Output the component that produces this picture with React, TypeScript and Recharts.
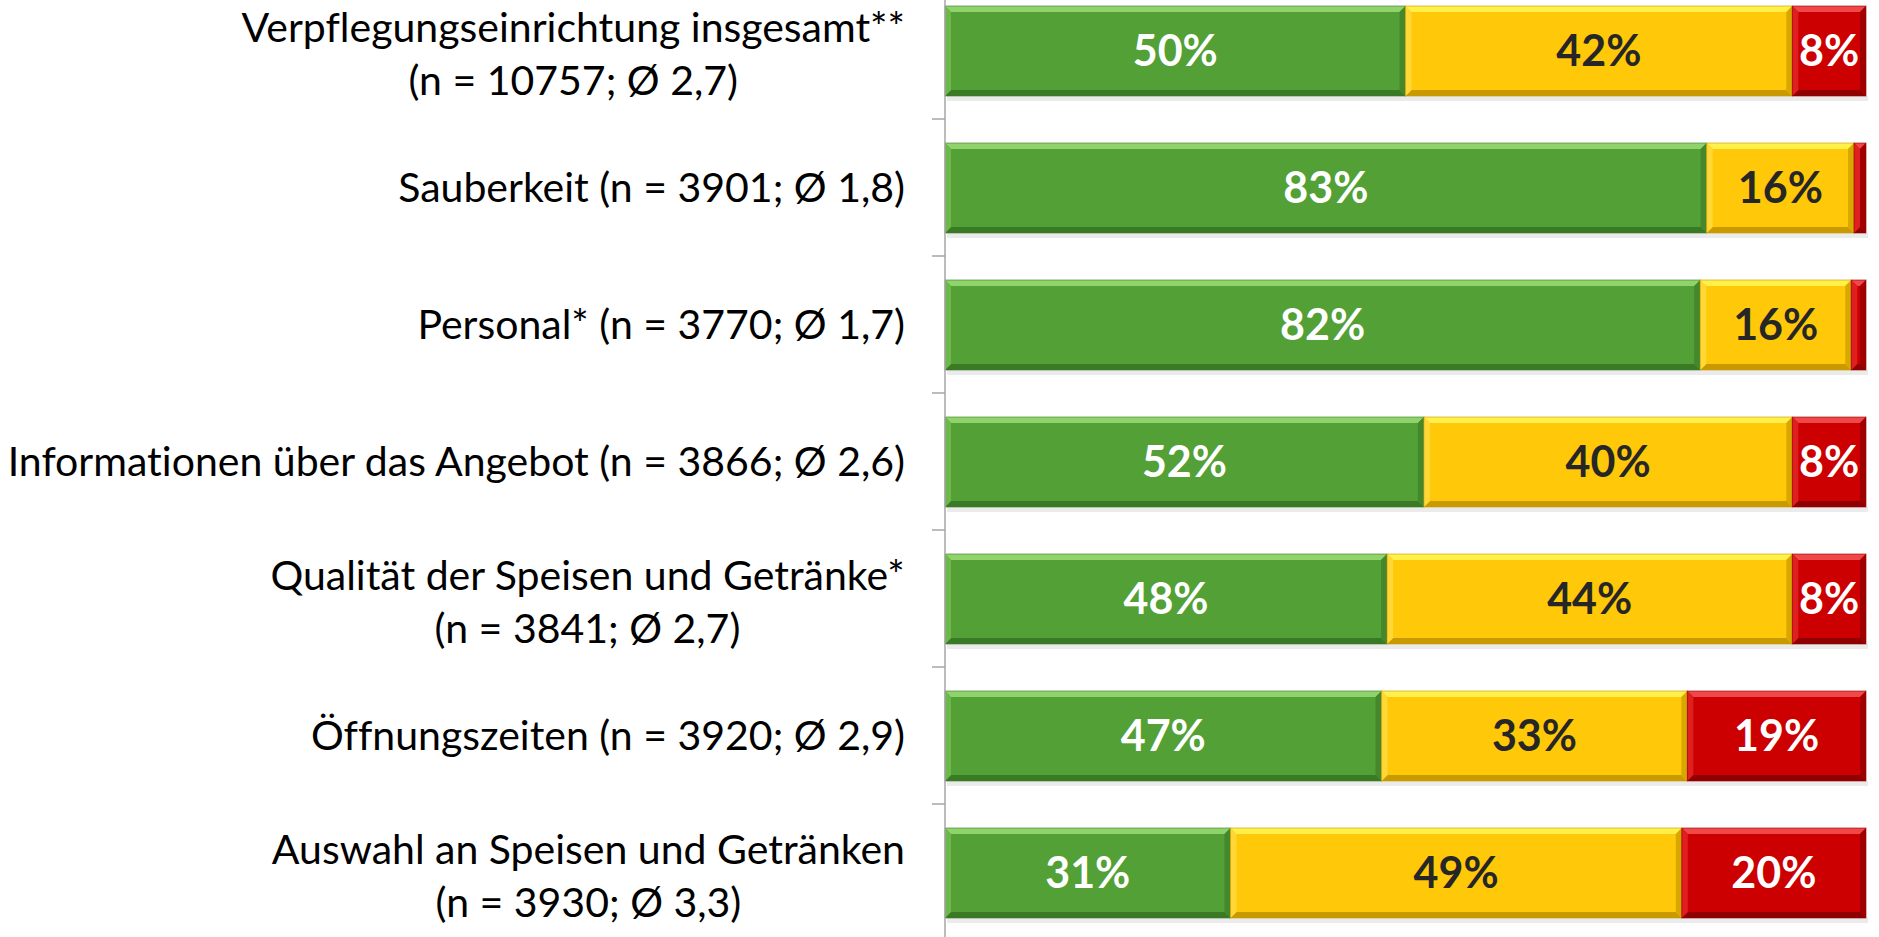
import React from "react";
import { BarChart, Bar, XAxis, YAxis, LabelList } from "recharts";

const categories = [
  "Verpflegungseinrichtung insgesamt**\n(n = 10757; Ø 2,7)",
  "Sauberkeit (n = 3901; Ø 1,8)",
  "Personal* (n = 3770; Ø 1,7)",
  "Informationen über das Angebot (n = 3866; Ø 2,6)",
  "Qualität der Speisen und Getränke*\n(n = 3841; Ø 2,7)",
  "Öffnungszeiten (n = 3920; Ø 2,9)",
  "Auswahl an Speisen und Getränken\n(n = 3930; Ø 3,3)",
];

// share in percent: good / medium / bad
const gut = [50, 82.7, 82, 52, 48, 47.4, 31];
const mittel = [42, 16, 16.4, 40, 44, 33.2, 49];
const schlecht = [8, 1.3, 1.6, 8, 8, 19.4, 20];

const data = categories.map((name, i) => ({
  name,
  gut: gut[i],
  mittel: mittel[i],
  schlecht: schlecht[i],
}));

const CHART_W = 1879;
const CHART_H = 959;
const BAND = CHART_H / categories.length;
const CAT_SIZE = 41;

let ctx: CanvasRenderingContext2D | null = null;
const measure = (s: string) => {
  if (!ctx) ctx = document.createElement("canvas").getContext("2d");
  if (!ctx) return s.length * 18;
  ctx.font = `${CAT_SIZE}px Lato`;
  return ctx.measureText(s).width;
};

const catStyle: React.CSSProperties = { fontVariantLigatures: "none" };

const CategoryTick = (props: any) => {
  const { x, y, payload, index } = props;
  const lines: string[] = String(payload.value).split("\n");
  const w = Math.max(...lines.map(measure));
  const cx = x - w / 2;
  return (
    <g>
      {index > 0 && (
        <line x1={x + 27} x2={x + 40} y1={y - BAND / 2} y2={y - BAND / 2} stroke="#a6a6a6" strokeWidth={1.5} />
      )}
      {lines.length === 1 ? (
        <text x={x} y={y + 14} textAnchor="end" fontFamily="Lato" fontSize={CAT_SIZE} fill="#000" style={catStyle}>
          {lines[0]}
        </text>
      ) : (
        lines.map((l, i) => (
          <text key={i} x={cx} y={y - 9 + i * 53} textAnchor="middle" fontFamily="Lato" fontSize={CAT_SIZE} fill="#000" style={catStyle}>
            {l}
          </text>
        ))
      )}
    </g>
  );
};

const makeBevel = (light: string, dark: string, side: string, sideDark: string) => (props: any) => {
  const { x, y, width, height, fill } = props;
  if (!width || width <= 0) return <g />;
  const b = Math.min(6, width / 2);
  const r = x + width;
  const btm = y + height;
  return (
    <g>
      <rect x={x + 2} y={btm} width={width} height={5} fill="#000" fillOpacity={0.08} />
      <rect x={x} y={y} width={width} height={height} fill={fill} />
      <polygon points={`${x},${y} ${r},${y} ${r - b},${y + b} ${x + b},${y + b}`} fill={light} />
      <polygon points={`${x},${btm} ${r},${btm} ${r - b},${btm - b} ${x + b},${btm - b}`} fill={dark} />
      <polygon points={`${x},${y} ${x + b},${y + b} ${x + b},${btm - b} ${x},${btm}`} fill={side} />
      <polygon points={`${r},${y} ${r - b},${y + b} ${r - b},${btm - b} ${r},${btm}`} fill={sideDark} />
      <rect x={x} y={y} width={width} height={height} fill="none" stroke={dark} strokeWidth={1} strokeOpacity={0.6} />
    </g>
  );
};

const greenShape = makeBevel("#8fd36a", "#3b7a25", "#6cb94a", "#44872c");
const yellowShape = makeBevel("#fff04a", "#c99a00", "#ffd838", "#d9a800");
const redShape = makeBevel("#f04848", "#8f0000", "#e02020", "#a00000");

const pct = (v: any) => (Number(v) < 5 ? "" : `${Math.round(Number(v))}%`);

const labelStyle = { fontFamily: "Lato", fontWeight: 700, fontSize: 43 };

export default function App() {
  return (
    <div style={{ position: "absolute", left: 0, top: 0, width: CHART_W, height: 937, overflow: "hidden", background: "#fff" }}>
      <div style={{ marginTop: -18 }}>
        <BarChart
          width={CHART_W}
          height={CHART_H}
          data={data}
          layout="vertical"
          margin={{ top: 0, right: 13, bottom: 0, left: 0 }}
          barSize={90}
        >
          <XAxis type="number" domain={[0, 100]} hide />
          <YAxis
            type="category"
            dataKey="name"
            width={945}
            interval={0}
            axisLine={{ stroke: "#a6a6a6", strokeWidth: 1.5 }}
            tickLine={false}
            tickSize={0}
            tickMargin={40}
            tick={<CategoryTick />}
          />
          <Bar dataKey="gut" stackId="a" fill="#52a036" shape={greenShape} isAnimationActive={false}>
            <LabelList dataKey="gut" position="center" formatter={pct} fill="#fff" style={labelStyle} />
          </Bar>
          <Bar dataKey="mittel" stackId="a" fill="#ffc809" shape={yellowShape} isAnimationActive={false}>
            <LabelList dataKey="mittel" position="center" formatter={pct} fill="#262626" style={labelStyle} />
          </Bar>
          <Bar dataKey="schlecht" stackId="a" fill="#cc0000" shape={redShape} isAnimationActive={false}>
            <LabelList dataKey="schlecht" position="center" formatter={pct} fill="#fff" style={labelStyle} />
          </Bar>
        </BarChart>
      </div>
    </div>
  );
}
